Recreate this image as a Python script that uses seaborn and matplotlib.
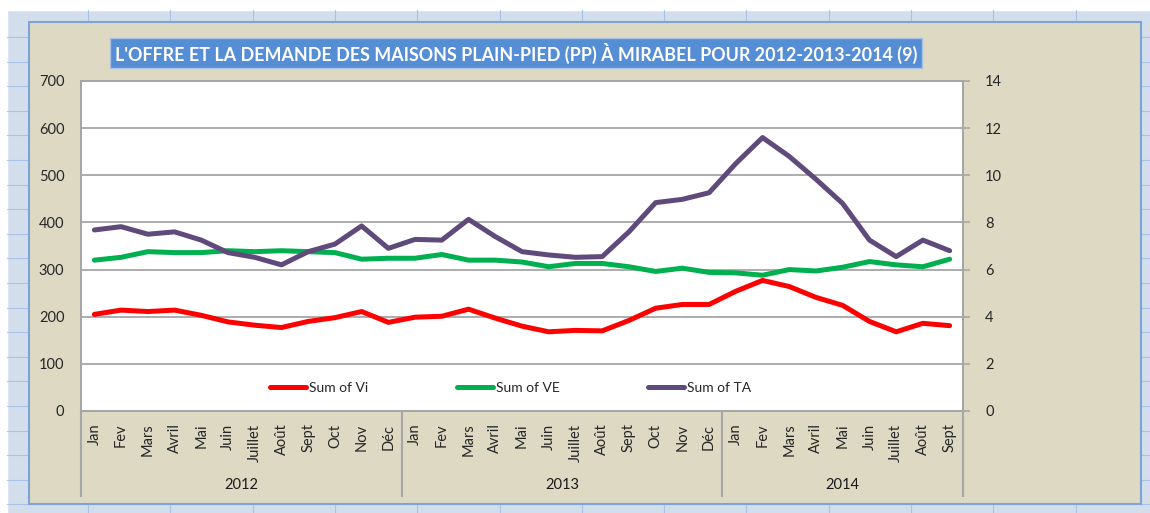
import matplotlib.pyplot as plt
import matplotlib.transforms as mtransforms
from matplotlib.lines import Line2D
from matplotlib.patches import Rectangle
from matplotlib import font_manager
import numpy as np
import pandas as pd
import seaborn as sns

# Data
month_names = ["Jan", "Fev", "Mars", "Avril", "Mai", "Juin", "Juillet",
               "Août", "Sept", "Oct", "Nov", "Déc"]
months = month_names * 2 + month_names[:9]
years = ["2012", "2013", "2014"]
year_lengths = [12, 12, 9]

vi = [205, 214, 211, 214, 203, 189, 182, 177, 190, 198, 211, 188,
      199, 201, 216, 197, 180, 168, 171, 170, 192, 218, 226, 226,
      254, 277, 264, 241, 224, 190, 168, 186, 181]
ve = [320, 326, 338, 336, 336, 340, 338, 340, 338, 336, 322, 324,
      324, 332, 320, 320, 316, 306, 313, 313, 306, 296, 303, 294,
      293, 288, 300, 297, 305, 317, 310, 306, 322]
ta = [7.68, 7.82, 7.50, 7.60, 7.25, 6.72, 6.52, 6.20, 6.76, 7.08, 7.85, 6.90,
      7.28, 7.25, 8.13, 7.40, 6.76, 6.62, 6.52, 6.55, 7.60, 8.84, 8.98, 9.26,
      10.50, 11.60, 10.80, 9.83, 8.80, 7.25, 6.55, 7.25, 6.80]

title = ("L'OFFRE ET LA DEMANDE DES MAISONS PLAIN-PIED (PP) À MIRABEL "
         "POUR 2012-2013-2014 (9)")

df = pd.DataFrame({"pos": np.arange(len(months)), "mois": months,
                   "Vi": vi, "VE": ve, "TA": ta})

sns.set_style("white")
plt.rcParams["font.family"] = ["Lato", "DejaVu Sans"]

names = {f.name for f in font_manager.fontManager.ttflist}
title_font = "Liberation Sans Narrow" if "Liberation Sans Narrow" in names \
    else "Lato"

W, H = 1150, 513
fig = plt.figure(figsize=(W / 100, H / 100), dpi=100)
fig.patch.set_facecolor("#D3DEEC")


def px(x0, y0, w, h):
    """Convert a pixel box (top-left origin) to figure fraction."""
    return (x0 / W, 1 - (y0 + h) / H, w / W, h / H)


# Excel sheet around the chart
fig.add_artist(Rectangle(px(0, 0, W, 10)[:2], 1, 10 / H,
                         transform=fig.transFigure, color="white", zorder=0))
fig.add_artist(Rectangle((0, 0), 7 / W, 1, transform=fig.transFigure,
                         color="white", zorder=0))
for yy in np.arange(37, 513, 24.6):
    fig.add_artist(Line2D([7 / W, 1], [1 - yy / H] * 2,
                          transform=fig.transFigure, color="#A9C3E6",
                          lw=0.8, zorder=0))
for xx in np.arange(88, 1150, 82.3):
    fig.add_artist(Line2D([xx / W] * 2, [0, 1 - 10 / H],
                          transform=fig.transFigure, color="#A9C3E6",
                          lw=0.8, zorder=0))

# Beige chart area
r = px(29, 22, 1112, 482)
fig.add_artist(Rectangle(r[:2], r[2], r[3], transform=fig.transFigure,
                         facecolor="#DDD9C3", edgecolor="#7DA4D6",
                         lw=1.5, zorder=1))

# Title box
r = px(110, 38, 812, 30)
fig.add_artist(Rectangle(r[:2], r[2], r[3], transform=fig.transFigure,
                         facecolor="#558ED5", edgecolor="#A7C1E3",
                         lw=1.0, zorder=2))
fig.text(516 / W, 1 - 53.5 / H, title, ha="center", va="center",
         color="white", fontsize=12.9, fontweight="bold",
         family=[title_font, "Lato", "DejaVu Sans"], zorder=3)

ax = fig.add_axes(px(81, 81, 882, 330))
ax.set_zorder(2)
ax2 = ax.twinx()
ax2.set_zorder(3)
ax2.patch.set_visible(False)

sns.lineplot(data=df, x="pos", y="Vi", ax=ax, color="#FF0000",
             linewidth=3.6, label="Sum of Vi", legend=False)
sns.lineplot(data=df, x="pos", y="VE", ax=ax, color="#00B050",
             linewidth=3.6, label="Sum of VE", legend=False)
sns.lineplot(data=df, x="pos", y="TA", ax=ax2, color="#604A7B",
             linewidth=3.6, label="Sum of TA", legend=False)

ax.set_facecolor("white")
ax.set_xlim(-0.5, len(months) - 0.5)
ax.set_ylim(0, 700)
ax2.set_ylim(0, 14)
ax.set_yticks(range(0, 701, 100))
ax2.set_yticks(range(0, 15, 2))
ax.yaxis.grid(True, color="#A6A6A6", lw=1.3)
ax.set_xlabel("")
ax.set_ylabel("")
ax2.set_ylabel("")

ax.set_xticks(df["pos"])
ax.set_xticklabels(df["mois"], rotation=90, fontsize=10.5, va="top")
ax.tick_params(axis="x", which="major", length=0, pad=9)
ax.tick_params(axis="y", length=0, pad=12, labelsize=10.5)
ax2.tick_params(axis="y", right=True, length=5, width=1.2,
                color="#A6A6A6", direction="out", pad=11, labelsize=10.5)

# Year separators as long minor ticks
bounds = np.concatenate([[0], np.cumsum(year_lengths)]) - 0.5
ax.set_xticks(bounds, minor=True)
ax.tick_params(axis="x", which="minor", bottom=True, length=62, width=1.5,
               color="#A6A6A6", direction="out")

trans = mtransforms.blended_transform_factory(ax.transData, ax.transAxes)
for year, start, n in zip(years, bounds[:-1], year_lengths):
    ax.text(start + n / 2, -0.225, year, transform=trans, ha="center",
            va="center", fontsize=10.5, color="#1A1A1A")

for a in (ax, ax2):
    for side in a.spines.values():
        side.set_color("#A6A6A6")
        side.set_linewidth(1.3)

handles = ax.get_lines()[:2] + ax2.get_lines()[:1]
ax2.legend(handles, [h.get_label() for h in handles], loc="center",
           bbox_to_anchor=(0.487, 0.07), ncol=3, frameon=False,
           fontsize=10, handlelength=2.6, handletextpad=0.2,
           columnspacing=6.4)

fig.savefig("out.png", dpi=100, facecolor=fig.get_facecolor())
